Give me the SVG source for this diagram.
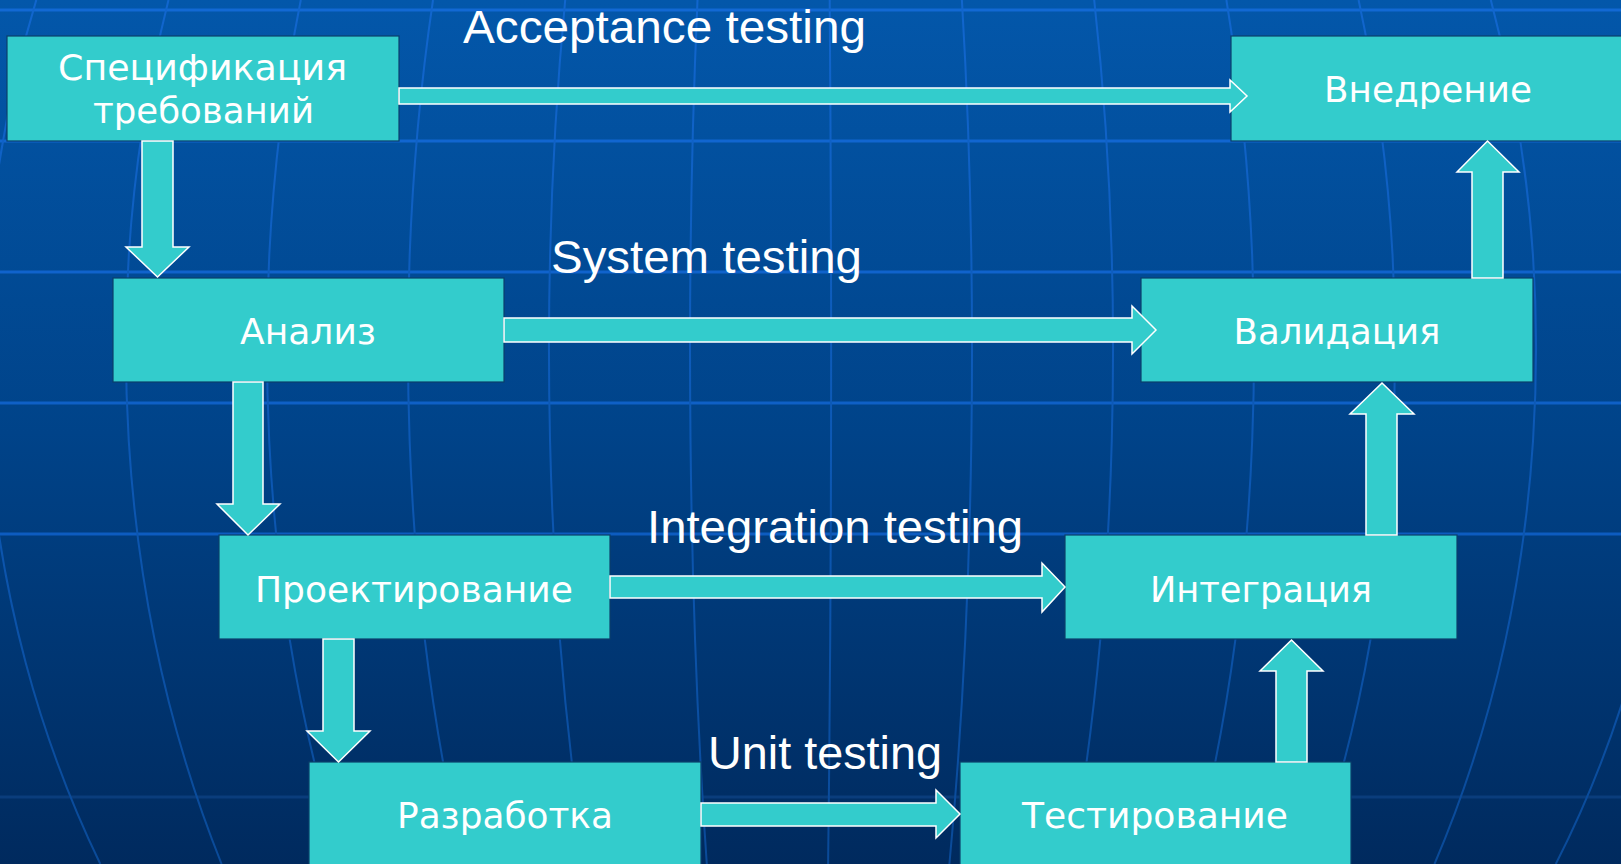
<svg xmlns="http://www.w3.org/2000/svg" width="1621" height="864" viewBox="0 0 1621 864">
  <defs>
    <linearGradient id="bg" x1="0" y1="0" x2="0" y2="1">
      <stop offset="0" stop-color="#0357AA"/>
      <stop offset="0.5" stop-color="#004389"/>
      <stop offset="1" stop-color="#002A5E"/>
    </linearGradient>
    <linearGradient id="mer" gradientUnits="userSpaceOnUse" x1="0" y1="0" x2="0" y2="864">
      <stop offset="0" stop-color="#1166CE"/>
      <stop offset="0.6" stop-color="#0C56B0"/>
      <stop offset="1" stop-color="#0A4A98"/>
    </linearGradient>
    <style>
      .mer { fill: none; stroke: url(#mer); stroke-width: 2; }
      .par { stroke-width: 3; }
      .box { fill: #33CCCC; stroke: #0B3F6B; stroke-width: 1.2; }
      .arrow { fill: #33CCCC; stroke: #FFFFFF; stroke-width: 1.5; stroke-linejoin: miter; }
      .node-text { font-family: "DejaVu Sans", Verdana, sans-serif; font-size: 36px; fill: #FFFFFF; text-anchor: middle; }
      .edge-label { font-family: "Liberation Sans", Arial, sans-serif; font-size: 47px; fill: #FFFFFF; }
    </style>
  </defs>

  <g id="background">
    <rect x="0" y="0" width="1621" height="864" fill="url(#bg)"/>
    <g id="parallels">
      <line class="par" x1="0" y1="10" x2="1621" y2="10" stroke="#1269D4"/>
      <line class="par" x1="0" y1="141" x2="1621" y2="141" stroke="#1166D0"/>
      <line class="par" x1="0" y1="272" x2="1621" y2="272" stroke="#1063CC"/>
      <line class="par" x1="0" y1="403" x2="1621" y2="403" stroke="#0F60C6"/>
      <line class="par" x1="0" y1="534" x2="1621" y2="534" stroke="#0D5CC0"/>
      <line class="par" x1="0" y1="797" x2="1621" y2="797" stroke="#0A3D7C"/>
    </g>
    <g id="meridians">
      <path class="mer" d="M36.3 0 A825 1008 0 0 0 100.3 864"/>
      <path class="mer" d="M168.5 0 A684 1008 0 0 0 221.6 864"/>
      <path class="mer" d="M300.8 0 A543 1008 0 0 0 342.9 864"/>
      <path class="mer" d="M433 0 A402 1008 0 0 0 464.2 864"/>
      <path class="mer" d="M565.2 0 A261 1008 0 0 0 585.5 864"/>
      <path class="mer" d="M697.5 0 A120 1008 0 0 0 706.8 864"/>
      <path class="mer" d="M829.7 0 A21 1008 0 0 1 828.1 864"/>
      <path class="mer" d="M961.9 0 A162 1008 0 0 1 949.4 864"/>
      <path class="mer" d="M1094.2 0 A303 1008 0 0 1 1070.6 864"/>
      <path class="mer" d="M1226.4 0 A444 1008 0 0 1 1191.9 864"/>
      <path class="mer" d="M1358.6 0 A585 1008 0 0 1 1313.2 864"/>
      <path class="mer" d="M1490.8 0 A726 1008 0 0 1 1434.5 864"/>
      <path class="mer" d="M1623.1 0 A867 1008 0 0 1 1555.8 864"/>
    </g>
  </g>

  <g id="node-spec">
    <rect class="box" x="7" y="36" width="392" height="105"/>
    <text class="node-text" x="202.5" y="80" textLength="289" lengthAdjust="spacingAndGlyphs">Спецификация</text>
    <text class="node-text" x="203.5" y="123" textLength="221" lengthAdjust="spacingAndGlyphs">требований</text>
  </g>
  <g id="node-deploy">
    <rect class="box" x="1231" y="36" width="395" height="105"/>
    <text class="node-text" x="1428" y="102" textLength="208" lengthAdjust="spacingAndGlyphs">Внедрение</text>
  </g>
  <g id="node-analysis">
    <rect class="box" x="113" y="278" width="391" height="104"/>
    <text class="node-text" x="308" y="344" textLength="136" lengthAdjust="spacingAndGlyphs">Анализ</text>
  </g>
  <g id="node-validation">
    <rect class="box" x="1141" y="278" width="392" height="104"/>
    <text class="node-text" x="1337" y="344" textLength="207" lengthAdjust="spacingAndGlyphs">Валидация</text>
  </g>
  <g id="node-design">
    <rect class="box" x="219" y="535" width="391" height="104"/>
    <text class="node-text" x="414" y="602" textLength="318" lengthAdjust="spacingAndGlyphs">Проектирование</text>
  </g>
  <g id="node-integration">
    <rect class="box" x="1065" y="535" width="392" height="104"/>
    <text class="node-text" x="1261" y="602" textLength="222" lengthAdjust="spacingAndGlyphs">Интеграция</text>
  </g>
  <g id="node-dev">
    <rect class="box" x="309" y="762" width="392" height="110"/>
    <text class="node-text" x="505" y="828" textLength="216" lengthAdjust="spacingAndGlyphs">Разработка</text>
  </g>
  <g id="node-test">
    <rect class="box" x="960" y="762" width="391" height="110"/>
    <text class="node-text" x="1155" y="828" textLength="266" lengthAdjust="spacingAndGlyphs">Тестирование</text>
  </g>

  <g id="connectors">
    <polygon id="edge-acceptance" class="arrow" points="399,88 1230,88 1230,80 1247,96 1230,112 1230,104 399,104"/>
    <polygon id="edge-system" class="arrow" points="504,318 1132,318 1132,306 1156,330 1132,354 1132,342 504,342"/>
    <polygon id="edge-integration" class="arrow" points="610,576 1042,576 1042,563 1065,587 1042,612 1042,598 610,598"/>
    <polygon id="edge-unit" class="arrow" points="701,803 936,803 936,790 960,814 936,838 936,826 701,826"/>
    <polygon id="edge-spec-analysis" class="arrow" points="142,141 173,141 173,247 189,247 157.5,277 126,247 142,247"/>
    <polygon id="edge-analysis-design" class="arrow" points="233,382 263,382 263,504 280,504 248,535 217,504 233,504"/>
    <polygon id="edge-design-dev" class="arrow" points="323,639 354,639 354,731 370,731 338.5,762 307,731 323,731"/>
    <polygon id="edge-test-integration" class="arrow" points="1276,762 1307,762 1307,671 1323,671 1291.5,640 1260,671 1276,671"/>
    <polygon id="edge-integration-validation" class="arrow" points="1366,535 1397,535 1397,414 1414,414 1382,383 1350,414 1366,414"/>
    <polygon id="edge-validation-deploy" class="arrow" points="1472,278 1503,278 1503,172 1519,172 1487.5,141 1457,172 1472,172"/>
  </g>

  <g id="edge-labels">
    <text class="edge-label" x="463" y="43" textLength="403" lengthAdjust="spacingAndGlyphs">Acceptance testing</text>
    <text class="edge-label" x="551" y="273" textLength="311" lengthAdjust="spacingAndGlyphs">System testing</text>
    <text class="edge-label" x="647" y="543" textLength="376" lengthAdjust="spacingAndGlyphs">Integration testing</text>
    <text class="edge-label" x="708" y="769" textLength="234" lengthAdjust="spacingAndGlyphs">Unit testing</text>
  </g>
</svg>
